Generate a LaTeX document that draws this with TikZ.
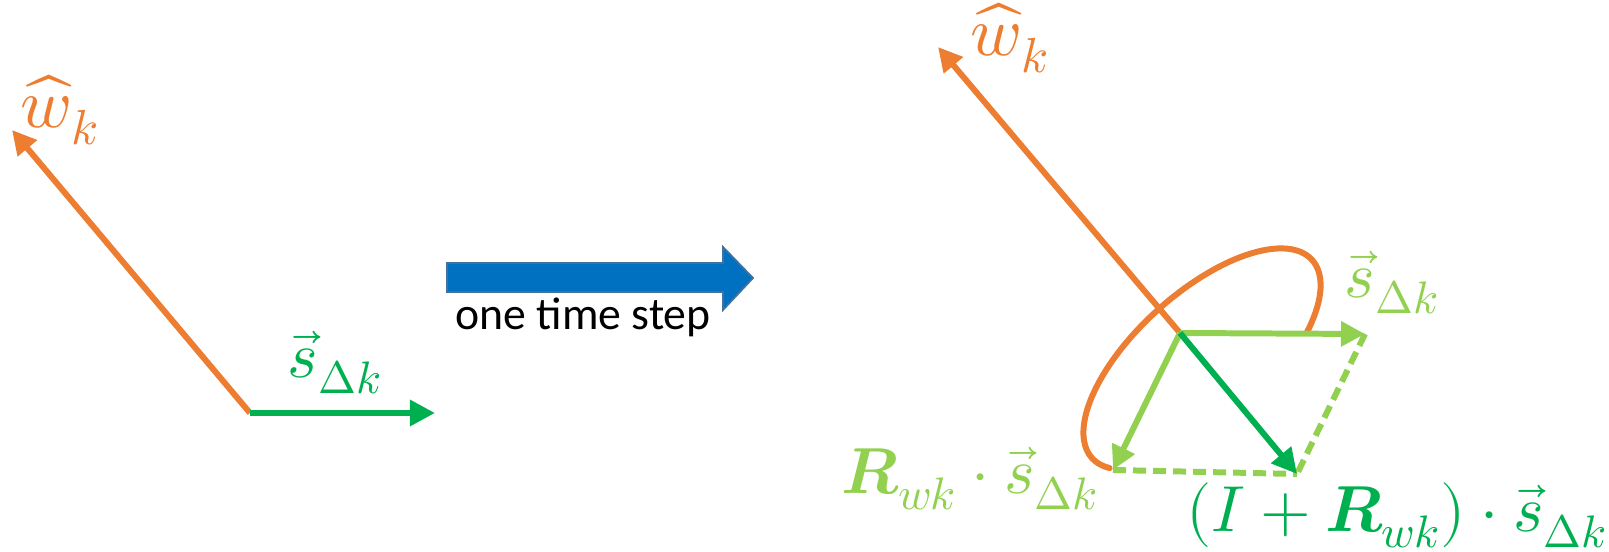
\documentclass[tikz,border=0pt]{standalone}
\usepackage{fontspec}
\usepackage{unicode-math}
\setmainfont{Carlito}
\setmathfont{Latin Modern Math}
\usetikzlibrary{arrows.meta,calc}
\definecolor{wcol}{HTML}{ED7D31}
\definecolor{scol}{HTML}{00B050}
\definecolor{lscol}{HTML}{92D050}
\definecolor{stepfill}{HTML}{0070C0}
\definecolor{stepline}{HTML}{41719C}
\newcommand{\kk}{k}
\tikzset{
  wvec/.style={draw=wcol,line width=1.7pt,
               -{Triangle[length=2.4mm,width=2.4mm]}},
  wring/.style={draw=wcol,line width=1.7pt,line cap=round},
  svec/.style={draw=scol,line width=1.7pt,
               -{Triangle[length=2.5mm,width=2.5mm]}},
  lsvec/.style={draw=lscol,line width=1.7pt,
                -{Triangle[length=2.4mm,width=2.4mm]}},
  dashvec/.style={draw=lscol,line width=1.7pt,
                  dash pattern=on 0.13cm off 0.07cm},
  wlab/.style={text=wcol,inner sep=0pt,font=\fontsize{20}{22}\selectfont},
  slab/.style={text=scol,inner sep=0pt,font=\fontsize{18.5}{20}\selectfont},
  lslab/.style={text=lscol,inner sep=0pt,font=\fontsize{18.5}{20}\selectfont},
  eqlab/.style={inner sep=0pt,font=\fontsize{18.5}{20}\selectfont}
}

\begin{document}
\begin{tikzpicture}[x=0.01cm,y=0.01cm]
    \useasboundingbox (0,0) rectangle (1609,552);
    % before the step
    \coordinate (o1) at (250,139);
    \coordinate (w1) at (12,422);
    \coordinate (s1) at (435,139);
    \draw[wvec] (o1) -- (w1);
    \draw[svec] (o1) -- (s1);
    \node[wlab] (w1lab) at (60,442) {$\widehat{w}_{\kk}$};
    \node[slab] (s1lab) at (335,189) {$\vec{s}_{\Delta\kk}$};
    % the step arrow
    \fill[fill=stepfill,draw=stepline,line width=0.5pt]
      (447,289) -- (723,289) -- (723,305) -- (753,274) -- (723,242)
      -- (723,260) -- (447,260) -- cycle;
    \node[anchor=base,inner sep=0pt,font=\fontsize{13}{15}\selectfont]
      (steptext) at (583,222) {one time step};
    % after the step
    \coordinate (o2) at (1180,219);
    \coordinate (w2) at (938,505);
    \coordinate (s2) at (1365,218);
    \coordinate (r2) at (1113,82);
    \coordinate (sum) at (1297,78);
    \coordinate (ec) at (1202,193);
    \draw[wring,shift={(ec)},rotate=42]
      (-50:1.48cm and 0.66cm)
      arc[start angle=-50,end angle=197,x radius=1.48cm,y radius=0.66cm];
    \draw[wvec] (o2) -- (w2);
    \draw[dashvec] (r2) -- (sum);
    \draw[dashvec] (s2) -- (sum);
    \draw[lsvec] (o2) -- (s2);
    \draw[lsvec] (o2) -- (r2);
    \draw[svec] (o2) -- (sum);
    \node[wlab] (w2lab) at (1010,514) {$\widehat{w}_{\kk}$};
    \node[lslab] (s2lab) at (1392,269) {$\vec{s}_{\Delta\kk}$};
    \node[eqlab,text=lscol] (rlab) at (970,73)
      {$\symbfit{R}_{w\kk}\cdot\vec{s}_{\Delta\kk}$};
    \node[eqlab,text=scol] (sumlab) at (1397,37)
      {$(I+\symbfit{R}_{w\kk})\cdot\vec{s}_{\Delta\kk}$};
\end{tikzpicture}
\end{document}
